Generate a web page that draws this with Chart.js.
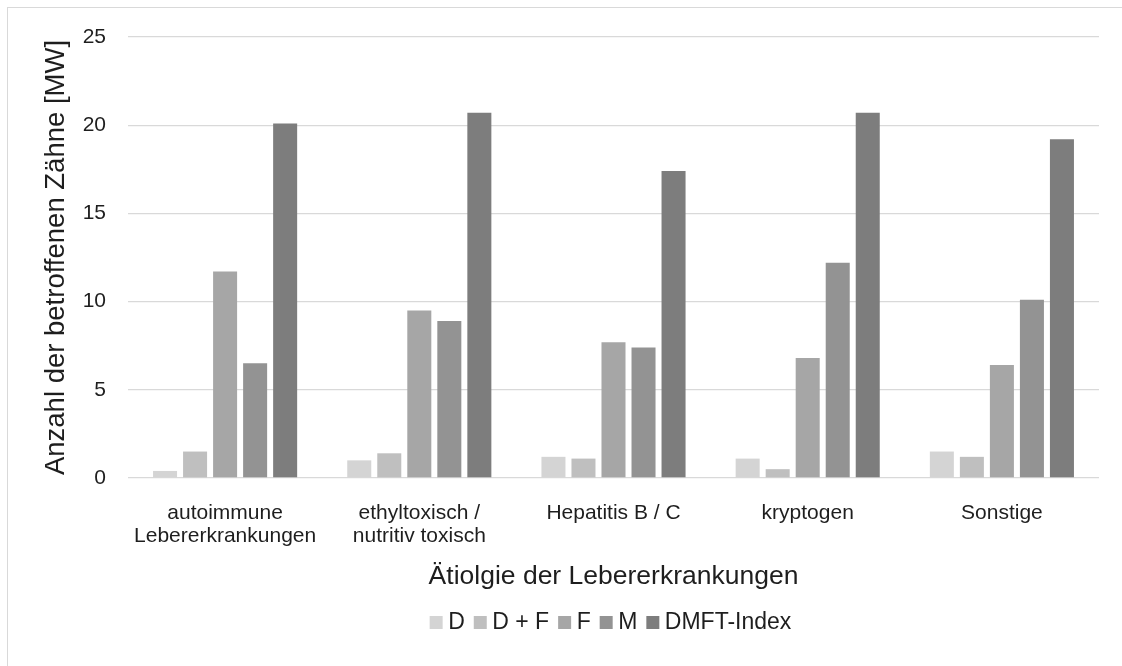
<!DOCTYPE html>
<html>
<head>
<meta charset="utf-8">
<script src="https://cdn.jsdelivr.net/npm/chart.js@4/dist/chart.umd.min.js"></script>
<style>
  html, body { margin: 0; padding: 0; background: #fff; overflow: hidden; }
  #wrap { position: relative; width: 1122px; height: 666px; }
  #frame {
    position: absolute; left: 7px; top: 7px; width: 1200px; height: 700px;
    border-left: 1.5px solid #d9d9d9; border-top: 1.5px solid #d9d9d9;
  }
  #chart { position: absolute; left: 0; top: 0; }
</style>
</head>
<body>
<div id="wrap">
  <div id="frame"></div>
  <canvas id="chart" width="1122" height="666"></canvas>
</div>
<script>
const categories = [
  ['autoimmune', 'Lebererkrankungen'],
  ['ethyltoxisch /', 'nutritiv toxisch'],
  'Hepatitis B / C',
  'kryptogen',
  'Sonstige'
];
const seriesNames = ['D', 'D + F', 'F', 'M', 'DMFT-Index'];
const valuesD = [0.4, 1.0, 1.2, 1.1, 1.5];
const valuesDF = [1.5, 1.4, 1.1, 0.5, 1.2];
const valuesF = [11.7, 9.5, 7.7, 6.8, 6.4];
const valuesM = [6.5, 8.9, 7.4, 12.2, 10.1];
const valuesDMFT = [20.1, 20.7, 17.4, 20.7, 19.2];
const yTicks = [0, 5, 10, 15, 20, 25];

const greys = ['#d4d4d4', '#bfbfbf', '#a6a6a6', '#939393', '#7d7d7d'];
const seriesValues = [valuesD, valuesDF, valuesF, valuesM, valuesDMFT];

const fontFamily = '"Liberation Sans", Arial, sans-serif';
const textColor = '#1e1e1e';

const ctx = document.querySelector('#chart');

new Chart(ctx, {
  type: 'bar',
  data: {
    labels: categories,
    datasets: seriesNames.map((name, i) => ({
      label: name,
      data: seriesValues[i],
      backgroundColor: greys[i],
      borderWidth: 0,
      categoryPercentage: 0.773,
      barPercentage: 0.8
    }))
  },
  options: {
    responsive: false,
    animation: false,
    layout: {
      padding: { left: 0, right: 23, top: 37, bottom: 22 }
    },
    plugins: {
      tooltip: { enabled: false },
      legend: {
        position: 'bottom',
        fullSize: false,
        labels: {
          // small boxWidth keeps the square close to its text
          usePointStyle: true,
          pointStyle: 'rect',
          boxWidth: 1,
          boxHeight: 13,
          padding: 15,
          color: textColor,
          font: { family: fontFamily, size: 23 }
        }
      }
    },
    scales: {
      x: {
        grid: { display: false },
        border: { display: false },
        ticks: {
          color: textColor,
          padding: 15.5,
          autoSkip: false,
          maxRotation: 0,
          font: { family: fontFamily, size: 21, lineHeight: 1.1 }
        },
        title: {
          display: true,
          text: 'Ätiolgie der Lebererkrankungen',
          color: textColor,
          padding: { top: 4, bottom: 3 },
          font: { family: fontFamily, size: 26.5 }
        },
        afterFit: (scale) => { scale.height = 118; }
      },
      y: {
        min: 0,
        max: 25,
        afterBuildTicks: (scale) => { scale.ticks = yTicks.map(v => ({ value: v })); },
        grid: { color: '#d9d9d9', lineWidth: 1.3, drawTicks: false },
        border: { display: false },
        ticks: {
          color: textColor,
          padding: 22,
          font: { family: fontFamily, size: 21 }
        },
        title: {
          display: true,
          text: 'Anzahl der betroffenen Zähne [MW]',
          color: textColor,
          padding: { top: 40, bottom: 0 },
          font: { family: fontFamily, size: 27.5 }
        },
        afterFit: (scale) => { scale.width = 128; }
      }
    }
  }
});
</script>
</body>
</html>
